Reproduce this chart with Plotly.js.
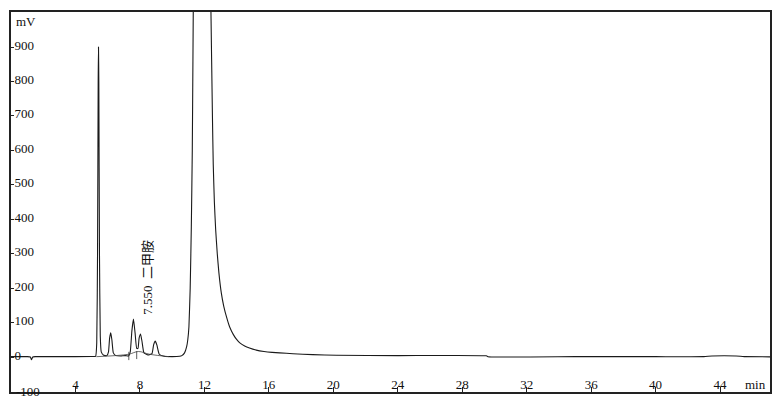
<!DOCTYPE html>
<html>
<head>
<meta charset="utf-8">
<script src="https://cdn.plot.ly/plotly-3.0.1.min.js"></script>
<style>html,body{margin:0;padding:0;background:#fff;}#chart{width:779px;height:410px;}</style>
</head>
<body>
<div id="chart"></div>
<script>
// Retention time (min) and detector signal (mV)
const timeMin = [0, 1.0, 1.2, 1.27, 1.35, 1.5, 3.0, 5.0, 5.25, 5.32, 5.37, 5.41, 5.43, 5.45, 5.49, 5.54, 5.6, 5.75,
  5.95, 6.05, 6.12, 6.19, 6.26, 6.35, 6.5, 6.8, 7.1, 7.3, 7.4, 7.5, 7.6, 7.7, 7.8, 7.88, 7.95, 8.04, 8.13, 8.25,
  8.5, 8.75, 8.85, 8.95, 9.05, 9.2, 9.5, 10.0, 10.46, 10.6, 10.77, 10.9, 10.97, 11.04, 11.12, 11.19, 11.25, 11.29,
  11.4, 11.6, 11.8, 12.0, 12.2, 12.38, 12.45, 12.5, 12.55, 12.62, 12.7, 12.8, 12.9, 13.05, 13.2, 13.4, 13.57,
  13.8, 14.0, 14.2, 14.5, 14.8, 15.22, 15.7, 16.2, 16.67, 17.5, 18.72, 20.2, 24.0, 29.5, 29.6, 35.0, 40.0,
  43.0, 43.5, 45.0, 45.5, 47.1];
const signalMV = [1, 1, 0, -8, 0, 1, 1, 1.5, 2, 40, 300, 800, 900, 800, 300, 60, 15, 5,
  4, 15, 55, 70, 50, 12, 4, 3, 4, 3, 15, 75, 110, 70, 25, 25, 55, 67, 45, 12,
  6, 10, 35, 46, 35, 8, 2, 1, 2, 4, 12, 30, 50, 87, 200, 378, 600, 862,
  1600, 2400, 2700, 2500, 1900, 1100, 862, 700, 560, 450, 370, 300, 245, 186, 148, 112, 87,
  65, 51, 41, 32, 26, 20, 16, 13.5, 12, 9.5, 7, 5, 4, 3.5, 1, 1, 1,
  1, 3, 3, 1, 0.5];
// Integration baseline under the small peaks
const baseTime = [5.3, 7.3, 7.9, 8.6, 9.8];
const baseMV = [1, 8, 16, 8, 1];
// Peak start/end markers
const markTime = [7.31, 7.8];
const markLow = [-9, -6];
const markHigh = [15, 17];
// Axis ticks
const xTicks = [4, 8, 12, 16, 20, 24, 28, 32, 36, 40, 44];
const yTicks = [0, 100, 200, 300, 400, 500, 600, 700, 800, 900];
const yBottomTick = -100;
const peakLabel = '7.550  二甲胺';

const traces = [
  {x: timeMin, y: signalMV, type: 'scatter', mode: 'lines', line: {color: '#1a1a1a', width: 1.1, shape: 'spline', smoothing: 0.4}, hoverinfo: 'skip'},
  {x: baseTime, y: baseMV, type: 'scatter', mode: 'lines', line: {color: '#444', width: 0.8, shape: 'spline'}, hoverinfo: 'skip'}
];
markTime.forEach((t, i) => {
  traces.push({x: [t, t], y: [markLow[i], markHigh[i]], type: 'scatter', mode: 'lines', line: {color: '#333', width: 0.8}, hoverinfo: 'skip'});
});

const serif = 'Liberation Serif, Times New Roman, serif';
const layout = {
  width: 779, height: 410,
  margin: {l: 11, r: 9, t: 12, b: 18},
  paper_bgcolor: '#fff', plot_bgcolor: '#fff',
  showlegend: false,
  xaxis: {
    range: [0, 47.1], tickvals: xTicks, ticktext: xTicks.map(String),
    ticks: 'inside', ticklen: 5, tickcolor: '#222', tickwidth: 1,
    ticklabelposition: 'inside', ticklabelstandoff: -5,
    tickfont: {family: serif, size: 13, color: '#111'},
    showgrid: false, zeroline: false,
    showline: true, mirror: true, linecolor: '#222', linewidth: 2
  },
  yaxis: {
    range: [-101.6, 1001.7], tickvals: yTicks.concat([yBottomTick]), ticktext: yTicks.map(String).concat(['']),
    ticks: 'inside', ticklen: 3, tickcolor: '#222', tickwidth: 1,
    ticklabelposition: 'inside', ticklabeloverflow: 'allow', ticklabelshift: -2,
    tickfont: {family: serif, size: 13, color: '#111'},
    showgrid: false, zeroline: false,
    showline: true, mirror: true, linecolor: '#222', linewidth: 2
  },
  shapes: [
    {type: 'rect', xref: 'paper', yref: 'paper', x0: -0.02, x1: 0.2, y0: -0.006, y1: -0.045, fillcolor: '#fff', line: {width: 0}, layer: 'above'}
  ],
  annotations: [
    {xref: 'paper', yref: 'paper', x: 0.004, y: 0.975, xanchor: 'left', yanchor: 'middle', text: 'mV', showarrow: false, font: {family: serif, size: 13, color: '#111'}},
    {xref: 'paper', yref: 'paper', x: 0.997, y: 0.02, xanchor: 'right', yanchor: 'middle', text: 'min', showarrow: false, font: {family: serif, size: 13, color: '#111'}},
    {xref: 'paper', yref: 'y', x: 0.004, y: yBottomTick, xanchor: 'left', yanchor: 'middle', text: String(yBottomTick), showarrow: false, font: {family: serif, size: 13, color: '#111'}},
    {x: 8.42, y: 232, xref: 'x', yref: 'y', text: peakLabel, textangle: -90, showarrow: false, xanchor: 'center', yanchor: 'middle', font: {family: 'Liberation Serif, Noto Sans CJK SC, serif', size: 13, color: '#111'}},
    {xref: 'paper', yref: 'paper', x: 0.55, y: -0.045, xanchor: 'center', yanchor: 'top', text: '二甲胺系统适用性溶液色谱图', showarrow: false, font: {family: 'Noto Sans CJK SC', size: 14, color: '#111'}}
  ]
};

Plotly.newPlot('chart', traces, layout, {staticPlot: true, displayModeBar: false});
</script>
</body>
</html>
